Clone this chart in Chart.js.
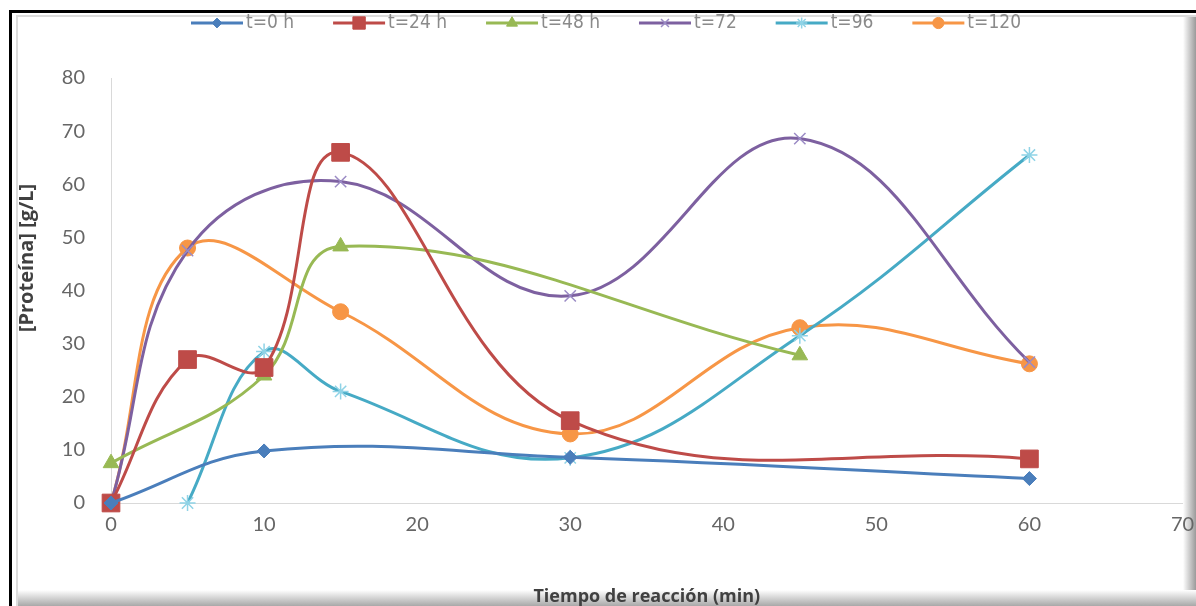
<!DOCTYPE html>
<html>
<head>
<meta charset="utf-8">
<script src="https://cdn.jsdelivr.net/npm/chart.js@4.4.0/dist/chart.umd.min.js"></script>
<style>
  html, body { margin: 0; padding: 0; background: #fff; }
  #wrap { width: 1196px; height: 606px; }
</style>
</head>
<body>
<div id="wrap"><canvas id="chart" width="1196" height="606"></canvas></div>
<script>
// reaction time (min)
const times = [0, 5, 10, 15, 30, 45, 60];

// protein (g/L) for each fermentation time, null = no reading
const t0 = [0, null, 9.8, null, 8.6, null, 4.6];
const t24 = [0, 27, 25.5, 66, 15.5, null, 8.3];
const t48 = [7.5, null, 24, 48.3, null, 27.8, null];
const t72 = [0, 47.5, null, 60.5, 39, 68.6, 26.5];
const t96 = [null, 0, 28.5, 21, 8.5, 31.5, 65.5];
const t120 = [0, 48, null, 36, 13, 33, 26.2];

const seriesNames = ['t=0 h', 't=24 h', 't=48 h', 't=72', 't=96', 't=120'];
const yTitle = '[Proteína] [g/L]';
const xTitle = 'Tiempo de reacción (min)';

function toPoints(vals) {
  return times.map((t, i) => ({x: t, y: vals[i]}));
}

function makeSet(name, vals, color, style, radius, markFill, markLine, markWidth) {
  return {
    label: name,
    data: toPoints(vals),
    borderColor: color,
    backgroundColor: color,
    borderWidth: 3,
    tension: 0.4,
    spanGaps: true,
    clip: false,
    pointStyle: style,
    pointRadius: radius,
    pointBackgroundColor: markFill,
    pointBorderColor: markLine,
    pointBorderWidth: markWidth
  };
}

// draws the frame around the picture
const framePlugin = {
  id: 'frame',
  beforeDraw(chart) {
    const ctx = chart.ctx, W = chart.width, H = chart.height;
    ctx.save();
    ctx.fillStyle = '#fff';
    ctx.fillRect(0, 0, W, H);
    let g = ctx.createLinearGradient(1183, 0, W, 0);
    g.addColorStop(0, '#ffffff');
    g.addColorStop(1, '#9a9a9a');
    ctx.fillStyle = g;
    ctx.fillRect(1183, 15, W - 1183, H - 15);
    g = ctx.createLinearGradient(0, 590, 0, H);
    g.addColorStop(0, '#ffffff');
    g.addColorStop(1, '#a8a8a8');
    ctx.fillStyle = g;
    ctx.fillRect(16, 590, W - 16, H - 590);
    ctx.fillStyle = '#dcdcdc';
    ctx.fillRect(16, 15, 2, H - 15);
    ctx.fillRect(16, 15, W - 16, 2);
    ctx.restore();
  },
  afterDraw(chart) {
    const ctx = chart.ctx, W = chart.width, H = chart.height;
    ctx.save();
    ctx.fillStyle = '#000';
    ctx.fillRect(9, 10, W - 9, 3);
    ctx.fillRect(9, 10, 3, H - 10);
    // y axis title
    ctx.translate(27, 258);
    ctx.rotate(-Math.PI / 2);
    ctx.font = 'bold 20px "Open Sans", sans-serif';
    ctx.fillStyle = '#404040';
    ctx.textAlign = 'center';
    ctx.textBaseline = 'middle';
    ctx.fillText(yTitle, 0, 0);
    ctx.restore();
  }
};

// legend with line + marker like the spreadsheet one
const lineLegend = {
  id: 'lineLegend',
  afterDraw(chart) {
    const ctx = chart.ctx;
    const sets = chart.data.datasets;
    const lineLen = 52, gapText = 3, y = 23;
    ctx.save();
    ctx.beginPath();
    ctx.rect(0, 13, chart.width, 30);
    ctx.clip();
    ctx.font = '19px "Liberation Sans Narrow", "DejaVu Sans Condensed", sans-serif';
    const widths = sets.map(d => ctx.measureText(d.label).width);
    const used = widths.reduce((a, b) => a + b, 0) + sets.length * (lineLen + gapText);
    const gap = (830 - used) / (sets.length - 1);
    let x = 191;
    sets.forEach((d, i) => {
      ctx.strokeStyle = d.borderColor;
      ctx.lineWidth = 3;
      ctx.beginPath();
      ctx.moveTo(x, y);
      ctx.lineTo(x + lineLen, y);
      ctx.stroke();
      ctx.fillStyle = d.pointBackgroundColor;
      ctx.strokeStyle = d.pointBorderColor;
      ctx.lineWidth = d.pointBorderWidth;
      Chart.helpers.drawPoint(ctx, {
        pointStyle: d.pointStyle,
        radius: d.pointRadius * 0.7,
        rotation: 0,
        borderWidth: d.pointBorderWidth
      }, x + lineLen / 2, y);
      ctx.fillStyle = '#8a8a8a';
      ctx.textAlign = 'left';
      ctx.textBaseline = 'middle';
      ctx.fillText(d.label, x + lineLen + gapText, y);
      x += lineLen + gapText + widths[i] + gap;
    });
    ctx.restore();
  }
};

const ctx = document.getElementById('chart').getContext('2d');
const myChart = new Chart(ctx, {
  type: 'line',
  data: {
    datasets: [
      makeSet(seriesNames[0], t0, '#4A7EBB', 'rectRot', 7, '#4A7EBB', '#4A7EBB', 1),
      makeSet(seriesNames[1], t24, '#BE4B48', 'rect', 12.5, '#BE4B48', '#BE4B48', 1),
      makeSet(seriesNames[2], t48, '#98B954', 'triangle', 9, '#98B954', '#98B954', 1),
      makeSet(seriesNames[3], t72, '#7D60A0', 'crossRot', 8, '#9B8BC5', '#9B8BC5', 1.5),
      makeSet(seriesNames[4], t96, '#46AAC5', 'star', 8, '#8FD3E6', '#8FD3E6', 1.5),
      makeSet(seriesNames[5], t120, '#F79646', 'circle', 8, '#F79646', '#F79646', 1)
    ]
  },
  options: {
    responsive: false,
    animation: false,
    devicePixelRatio: 1,
    layout: {
      padding: {left: 12, right: 7, top: 78, bottom: 0}
    },
    plugins: {
      legend: {display: false},
      tooltip: {enabled: false}
    },
    scales: {
      x: {
        type: 'linear',
        min: 0,
        max: 70,
        grid: {display: false, drawTicks: false},
        border: {display: true, color: '#d9d9d9', width: 1},
        ticks: {
          stepSize: 10,
          padding: 10,
          color: '#666666',
          font: {family: 'Lato', size: 20}
        },
        title: {
          display: true,
          text: xTitle,
          color: '#404040',
          padding: 0,
          font: {family: 'Open Sans', size: 18, weight: 'bold', lineHeight: 1}
        },
        afterFit(scale) {
          scale.height = 103;
          scale.paddingLeft = 0;
          scale.paddingRight = 0;
        }
      },
      y: {
        min: 0,
        max: 80,
        grid: {display: false, drawTicks: false},
        border: {display: true, color: '#d9d9d9', width: 1},
        ticks: {
          stepSize: 10,
          padding: 26,
          color: '#666666',
          font: {family: 'Lato', size: 20}
        },
        afterFit(scale) {
          scale.width = 99;
        }
      }
    }
  },
  plugins: [framePlugin, lineLegend]
});
</script>
</body>
</html>
